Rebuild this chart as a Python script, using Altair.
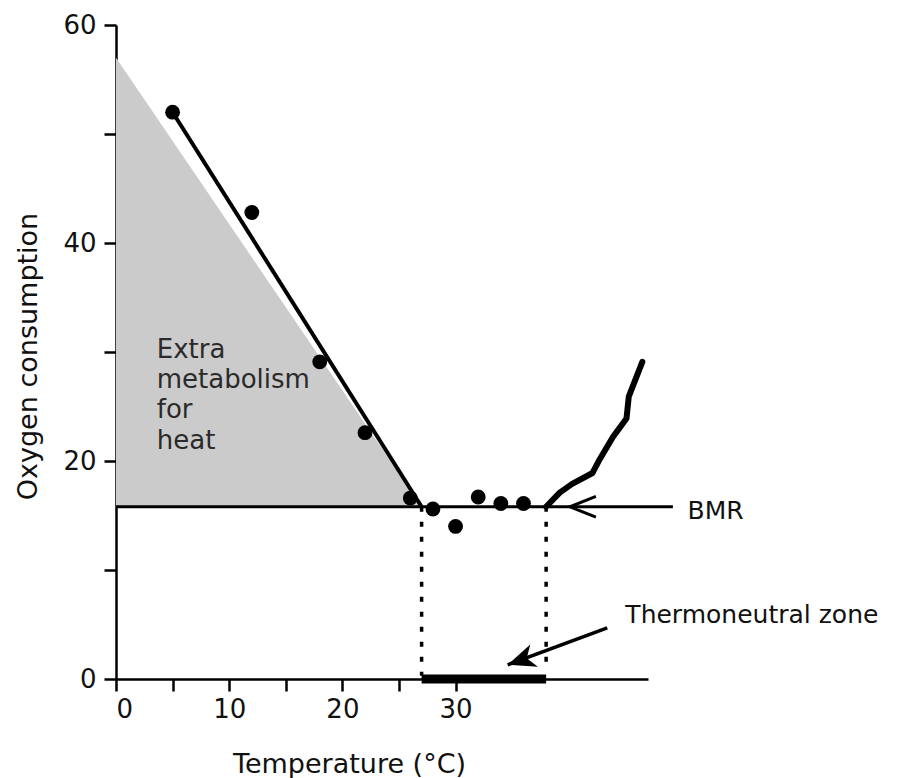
import altair as alt
import pandas as pd

# ---- data ----
pts_T = [5, 12, 18, 22, 26, 28, 30, 32, 34, 36]
pts_O2 = [52, 42.8, 29.1, 22.6, 16.6, 15.6, 14.0, 16.7, 16.1, 16.1]

reg_T = [5, 27]
reg_O2 = [52, 15.8]

shade_T = [0, 27]
shade_O2 = [57, 15.8]
bmr = 15.8

curve_T = [38.0, 39.2, 40.3, 42.1, 42.7, 43.9, 45.1, 45.3, 46.5]
curve_O2 = [15.8, 17.1, 17.9, 18.9, 20.1, 22.2, 23.9, 25.9, 29.1]

tnz_lo, tnz_hi = 27, 38
bmr_line_T = [0, 49.2]
bmr_arrow_tip = 40.1
tnz_arrow_T = [43.4, 34.6]
tnz_arrow_O2 = [4.7, 1.3]

heat_labels = ["Extra", "metabolism", "for", "heat"]
heat_T = [3.6, 3.6, 3.6, 3.6]
heat_O2 = [29.45, 26.7, 23.9, 21.1]

x_ticks = [0, 5, 10, 15, 20, 25, 30]
y_ticks = [0, 10, 20, 30, 40, 50, 60]

FONT = "DejaVu Sans"

xs = alt.Scale(domain=[0, 47], nice=False, zero=False)
ys = alt.Scale(domain=[0, 60], nice=False, zero=False)

x_axis = alt.Axis(values=x_ticks, labelExpr="datum.value % 10 == 0 ? datum.label : ''",
                  grid=False, domainColor="black", domainWidth=2.5, tickColor="black",
                  tickWidth=2.5, tickSize=12, labelFont=FONT, labelFontSize=26,
                  labelColor="#111", labelPadding=5, title="Temperature (°C)",
                  titleFont=FONT, titleFontSize=27, titleFontWeight="normal",
                  titleColor="#111", titleX=233, titleY=93, titleBaseline="alphabetic",
                  titleAnchor="middle", titleAlign="center")
y_axis = alt.Axis(values=y_ticks, labelExpr="datum.value % 20 == 0 ? datum.label : ''",
                  grid=False, domainColor="black", domainWidth=2.5, tickColor="black",
                  tickWidth=2.5, tickSize=12, labelFont=FONT, labelFontSize=26,
                  labelColor="#111", labelPadding=8, title="Oxygen consumption",
                  titleFont=FONT, titleFontSize=27, titleFontWeight="normal",
                  titleColor="#111", titleX=-80, titleY=331, titleAngle=270,
                  titleBaseline="alphabetic", titleAlign="center")

X = alt.X("T:Q", scale=xs, axis=x_axis)
Y = alt.Y("O2:Q", scale=ys, axis=y_axis)

shade_df = pd.DataFrame({"T": shade_T, "O2": shade_O2, "base": [bmr, bmr]})
shade = alt.Chart(shade_df).mark_area(color="#cbcbcb", opacity=1).encode(
    x=X, y=Y, y2="base:Q")

bmr_df = pd.DataFrame({"T": bmr_line_T, "O2": [bmr, bmr]})
bmr_line = alt.Chart(bmr_df).mark_line(color="black", strokeWidth=3).encode(x=X, y=Y)

reg_df = pd.DataFrame({"T": reg_T, "O2": reg_O2})
reg_line = alt.Chart(reg_df).mark_line(color="black", strokeWidth=4).encode(x=X, y=Y)

pts_df = pd.DataFrame({"T": pts_T, "O2": pts_O2})
points = alt.Chart(pts_df).mark_circle(size=220, color="black", opacity=1).encode(x=X, y=Y)

curve_df = pd.DataFrame({"T": curve_T, "O2": curve_O2, "i": list(range(len(curve_T)))})
curve = alt.Chart(curve_df).mark_line(color="black", strokeWidth=6, strokeCap="round",
                                      strokeJoin="round").encode(x=X, y=Y, order="i:O")

dot_df = pd.DataFrame({"T": [tnz_lo, tnz_hi], "O2": [bmr, bmr], "bot": [0.3, 0.8]})
dotted = alt.Chart(dot_df).mark_rule(color="black", strokeWidth=3.5, strokeDash=[5, 10]).encode(
    x=X, y=Y, y2="bot:Q")

bar_df = pd.DataFrame({"T": [tnz_lo], "T2": [tnz_hi], "O2": [0]})
bar = alt.Chart(bar_df).mark_rule(color="black", strokeWidth=9).encode(x=X, x2="T2:Q", y=Y)

tnz_df = pd.DataFrame({"T": tnz_arrow_T, "O2": tnz_arrow_O2})
tnz_line = alt.Chart(tnz_df).mark_line(color="black", strokeWidth=3.5).encode(x=X, y=Y)

head_path_filled = "M0,0 L1,-0.42 L0.72,0 L1,0.42 Z"
tnz_head = alt.Chart(pd.DataFrame({"T": [tnz_arrow_T[1]], "O2": [tnz_arrow_O2[1]]})).mark_point(
    shape=head_path_filled, size=3136, angle=341, filled=True, color="black", opacity=1
).encode(x=X, y=Y)

head_path_open = "M1,-0.4 L0,0 L1,0.4"
bmr_head = alt.Chart(pd.DataFrame({"T": [bmr_arrow_tip], "O2": [bmr]})).mark_point(
    shape=head_path_open, size=2704, filled=False, color="black", strokeWidth=3, opacity=1
).encode(x=X, y=Y)

heat_df = pd.DataFrame({"T": heat_T, "O2": heat_O2, "label": heat_labels})
heat_text = alt.Chart(heat_df).mark_text(font=FONT, fontSize=26, align="left",
                                         baseline="alphabetic", color="#2a2a2a").encode(
    x=X, y=Y, text="label:N")

ann_df = pd.DataFrame({"T": [50.5, 45.0], "O2": [14.7, 5.1], "label": ["BMR", "Thermoneutral zone"]})
ann_text = alt.Chart(ann_df).mark_text(font=FONT, fontSize=25, align="left",
                                       baseline="alphabetic", color="#111").encode(
    x=X, y=Y, text="label:N")

chart = alt.layer(shade, heat_text, bmr_line, reg_line, points, curve, dotted, bar,
                  tnz_line, tnz_head, bmr_head, ann_text).properties(
    width=532, height=654,
    padding={"left": 116, "top": 25, "right": 251, "bottom": 99},
    autosize=alt.AutoSizeParams(type="none"),
    background="white",
).configure_view(stroke=None)

chart.save("out.html", embed_options={"renderer": "svg", "actions": False})
